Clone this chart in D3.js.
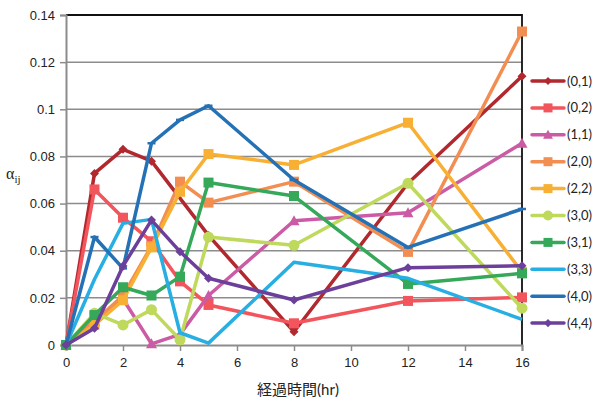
<!DOCTYPE html>
<html>
<head>
<meta charset="utf-8">
<script src="https://cdn.jsdelivr.net/npm/d3@7"></script>
<style>
  html, body { margin: 0; padding: 0; background: #fff; }
  svg { display: block; font-family: "Lato", "Open Sans", "Noto Sans CJK JP", sans-serif; }
</style>
</head>
<body>
<svg id="chart" width="597" height="401"></svg>
<script>
// Elapsed time (hours)
const hours = [0, 1, 2, 3, 4, 5, 8, 12, 16];

// Series names and colours
const seriesNames = ["(0,1)", "(0,2)", "(1,1)", "(2,0)", "(2,2)", "(3,0)", "(3,1)", "(3,3)", "(4,0)", "(4,4)"];
const seriesColors = ["#B1282E", "#F2555C", "#CB5BA5", "#F28E52", "#F7B033", "#BED95B", "#35A85A", "#27AEE2", "#2471B6", "#6C409A"];
const seriesMarkers = ["diamond", "square", "triangle", "square", "square", "circle", "square", "none", "dash", "diamond"];

// α_ij values per series, one per hour (null = not measured)
const a01 = [0, 0.0728, 0.0830, 0.0780, null, 0.0465, 0.0056, 0.0686, 0.1140];
const a02 = [0, 0.0660, 0.0540, 0.0440, 0.0270, 0.0170, 0.0092, 0.0187, 0.0202];
const a11 = [0, 0.0100, 0.0195, 0.0005, 0.0045, 0.0210, 0.0527, 0.0561, 0.0856];
const a20 = [0, 0.0100, 0.0210, 0.0420, 0.0693, 0.0604, 0.0693, 0.0395, 0.1330];
const a22 = [0, 0.0085, 0.0190, 0.0414, 0.0650, 0.0810, 0.0764, 0.0943, 0.0310];
const a30 = [0, 0.0135, 0.0085, 0.0150, 0.0022, 0.0458, 0.0423, 0.0686, 0.0156];
const a31 = [0, 0.0127, 0.0245, 0.0210, 0.0290, 0.0689, 0.0632, 0.0259, 0.0304];
const a33 = [0, 0.0279, 0.0516, 0.0533, 0.0052, 0.0008, 0.0351, 0.0283, 0.0109];
const a40 = [0, 0.0458, 0.0325, 0.0856, 0.0955, 0.1015, 0.0700, 0.0414, 0.0577];
const a44 = [0, 0.0071, 0.0335, 0.0530, 0.0396, 0.0283, 0.0191, 0.0328, 0.0336];
const seriesValues = [a01, a02, a11, a20, a22, a30, a31, a33, a40, a44];

// Axis ticks and titles
const xTicks = [0, 2, 4, 6, 8, 10, 12, 14, 16];
const yTicks = [0, 0.02, 0.04, 0.06, 0.08, 0.1, 0.12, 0.14];
const xTitle = "経過時間(hr)";

const svg = d3.select("#chart");
const plot = { left: 66, right: 522, top: 15, bottom: 345 };

const x = d3.scaleLinear().domain([0, 16]).range([plot.left, plot.right]);
const y = d3.scaleLinear().domain([0, 0.14]).range([plot.bottom, plot.top]);

// Horizontal gridlines
svg.append("g")
  .selectAll("line")
  .data(yTicks.filter(t => t > 0 && t < 0.14))
  .join("line")
  .attr("x1", plot.left).attr("x2", plot.right)
  .attr("y1", d => y(d)).attr("y2", d => y(d))
  .attr("stroke", "#8c8c8c").attr("stroke-width", 1.5);

// Top and right frame
svg.append("path")
  .attr("d", `M${plot.left},${plot.top}H${plot.right}V${plot.bottom}`)
  .attr("fill", "none").attr("stroke", "#111").attr("stroke-width", 1.8);

// Y axis
const yAxis = d3.axisLeft(y).tickValues(yTicks).tickSize(6).tickPadding(5)
  .tickFormat(d => d === 0 ? "0" : d3.format("~g")(+d.toFixed(2)));
const gy = svg.append("g").attr("transform", `translate(${plot.left},0)`).call(yAxis);
gy.select(".domain").attr("stroke", "#8c8c8c").attr("stroke-width", 2);
gy.selectAll(".tick line").attr("stroke", "#8c8c8c").attr("stroke-width", 1.5);
gy.selectAll(".tick text").attr("fill", "#222").style("font-size", "13px");

// X axis
const xAxis = d3.axisBottom(x).tickValues(xTicks).tickSize(6).tickPadding(7);
const gx = svg.append("g").attr("transform", `translate(0,${plot.bottom})`).call(xAxis);
gx.select(".domain").attr("stroke", "#8c8c8c").attr("stroke-width", 2);
gx.selectAll(".tick line").attr("stroke", "#8c8c8c").attr("stroke-width", 1.5);
gx.selectAll(".tick text").attr("fill", "#222").style("font-size", "13px");

// Axis titles
svg.append("text")
  .attr("x", (plot.left + plot.right) / 2 + 4).attr("y", 395)
  .attr("text-anchor", "middle").attr("fill", "#222")
  .style("font-size", "15px").text(xTitle);

const yt = svg.append("text").attr("x", 6).attr("y", 179).attr("fill", "#222")
  .style("font-family", "'Liberation Serif', 'DejaVu Serif', serif").style("font-size", "16px");
yt.append("tspan").text("α");
yt.append("tspan").attr("dy", 4).style("font-size", "11px").text("ij");

// Marker drawing
function drawMarker(g, type, color, cx, cy, scale) {
  const s = scale || 1;
  if (type === "diamond") {
    const r = 4.5 * s;
    g.append("path").attr("d", `M${cx},${cy - r}L${cx + r},${cy}L${cx},${cy + r}L${cx - r},${cy}Z`).attr("fill", color);
  } else if (type === "square") {
    const h = 5 * s;
    g.append("rect").attr("x", cx - h).attr("y", cy - h).attr("width", 2 * h).attr("height", 2 * h).attr("fill", color);
  } else if (type === "triangle") {
    const r = 5.5 * s;
    g.append("path").attr("d", `M${cx},${cy - r}L${cx + r},${cy + r * 0.8}L${cx - r},${cy + r * 0.8}Z`).attr("fill", color);
  } else if (type === "circle") {
    g.append("circle").attr("cx", cx).attr("cy", cy).attr("r", 5.5 * s).attr("fill", color);
  } else if (type === "dash") {
    g.append("line").attr("x1", cx - 4).attr("x2", cx + 4).attr("y1", cy).attr("y2", cy)
      .attr("stroke", color).attr("stroke-width", 2.5);
  }
}

const line = d3.line().x(d => x(d.h)).y(d => y(d.v));

seriesValues.forEach((vals, k) => {
  const pts = vals.map((v, i) => ({ h: hours[i], v })).filter(p => p.v !== null);
  const g = svg.append("g");
  g.append("path").datum(pts).attr("d", line)
    .attr("fill", "none").attr("stroke", seriesColors[k]).attr("stroke-width", 3.5)
    .attr("stroke-linejoin", "round");
  pts.forEach(p => drawMarker(g, seriesMarkers[k], seriesColors[k], x(p.h), y(p.v)));
});

// Legend
const legend = svg.append("g");
seriesNames.forEach((name, k) => {
  const ly = 81 + k * 26.9;
  const g = legend.append("g");
  g.append("line").attr("x1", 532).attr("x2", 564).attr("y1", ly).attr("y2", ly)
    .attr("stroke", seriesColors[k]).attr("stroke-width", 3.5).attr("stroke-linecap", "round");
  if (seriesMarkers[k] !== "dash") drawMarker(g, seriesMarkers[k], seriesColors[k], 548, ly, 0.9);
  g.append("text").attr("x", 567).attr("y", ly).attr("dy", "0.35em")
    .attr("fill", "#222").style("font-size", "13px").text(name);
});
</script>
</body>
</html>
